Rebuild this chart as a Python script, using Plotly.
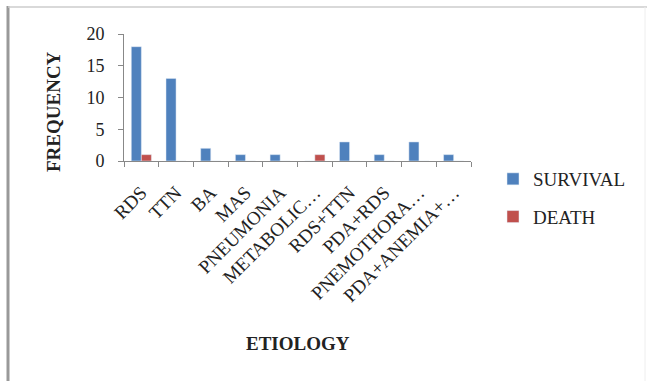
import plotly.graph_objects as go

categories = ["RDS", "TTN", "BA", "MAS", "PNEUMONIA", "METABOLIC…",
              "RDS+TTN", "PDA+RDS", "PNEMOTHORA…", "PDA+ANEMIA+…"]
survival = [18, 13, 2, 1, 1, 0, 3, 1, 3, 1]
death = [1, 0, 0, 0, 0, 1, 0, 0, 0, 0]
y_ticks = [0, 5, 10, 15, 20]

W, H = 650, 381
L, R, T, B = 124, 471, 34, 161  # plot area edges in pixels

def px(x):
    return (x - L) / (R - L)

def py(y):
    return (B - y) / (B - T)

serif = "Liberation Serif, Times New Roman, serif"

fig = go.Figure()
fig.add_bar(x=categories, y=survival, name="SURVIVAL", legendgroup="s",
            marker_color="#4F81BD")
fig.add_bar(x=categories, y=death, name="DEATH", legendgroup="d",
            marker_color="#C0504D")

fig.update_layout(
    width=W, height=H,
    margin=dict(l=L, r=W - R, t=T, b=H - B),
    paper_bgcolor="white", plot_bgcolor="white",
    barmode="group", bargap=0.42, bargroupgap=0,
    font=dict(family=serif, color="#222", size=14),
    showlegend=True,
    legend=dict(x=px(493), y=py(160), xanchor="left", yanchor="top",
                font=dict(size=19, family=serif), itemwidth=30,
                tracegroupgap=10, bgcolor="rgba(0,0,0,0)"),
    xaxis=dict(showline=True, linecolor="#888", linewidth=1,
               ticks="outside", tickson="boundaries", ticklen=5, tickcolor="#888",
               tickangle=-45, tickfont=dict(size=19, family=serif),
               ticklabelstandoff=12, showgrid=False),
    yaxis=dict(range=[0, 20], tickvals=y_ticks, showline=True, linecolor="#888",
               linewidth=1, ticks="outside", ticklen=5, tickcolor="#888",
               tickfont=dict(size=18, family=serif), ticklabelstandoff=10,
               showgrid=False, zeroline=False),
    annotations=[
        dict(text="<b>FREQUENCY</b>", xref="paper", yref="paper",
             x=px(53), y=py(112), xanchor="center", yanchor="middle",
             textangle=-90, showarrow=False,
             font=dict(size=19, family=serif)),
        dict(text="<b>ETIOLOGY</b>", xref="paper", yref="paper",
             x=px(298), y=py(343), xanchor="center", yanchor="middle",
             showarrow=False, font=dict(size=19, family=serif)),
    ],
    shapes=[
        dict(type="line", xref="paper", yref="paper", x0=px(8), x1=px(8),
             y0=py(6), y1=py(381), line=dict(color="#999", width=3)),
        dict(type="line", xref="paper", yref="paper", x0=px(8), x1=px(647),
             y0=py(7), y1=py(7), line=dict(color="#ccc", width=1.5)),
        dict(type="line", xref="paper", yref="paper", x0=px(645), x1=px(645),
             y0=py(7), y1=py(381), line=dict(color="#eee", width=1)),
    ],
)

fig.write_html("out.html")
